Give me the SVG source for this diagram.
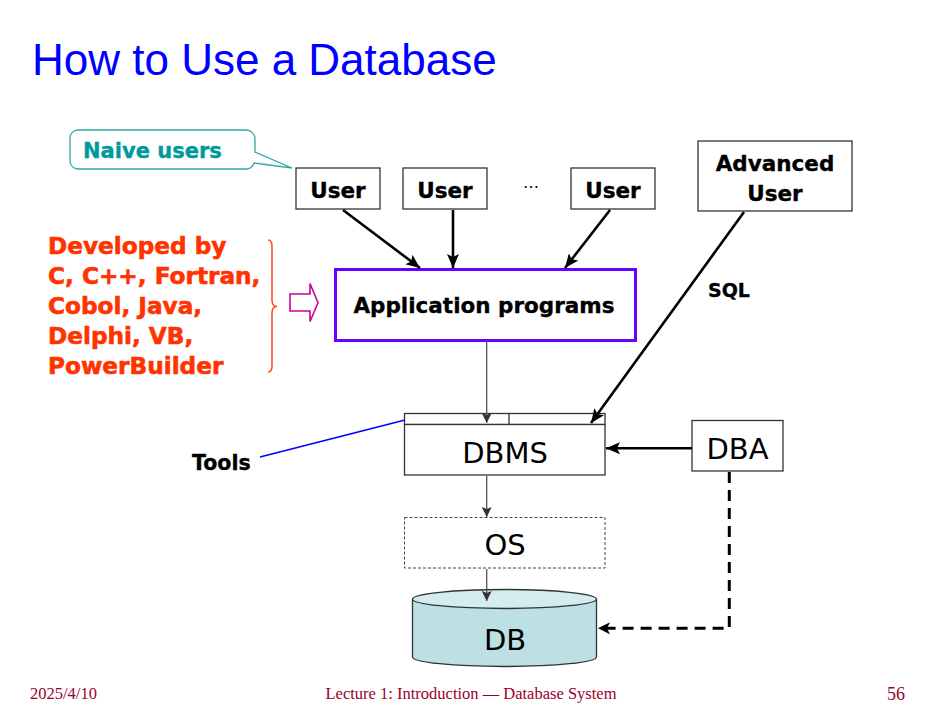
<svg xmlns="http://www.w3.org/2000/svg" width="940" height="706" viewBox="0 0 940 706">
<style>
.box{fill:#fff;stroke:#333;stroke-width:1.3}
.lbl{font-family:"DejaVu Sans",Verdana,sans-serif;font-weight:bold;font-size:21.5px;fill:#000;stroke:#000;stroke-width:0.35;text-anchor:middle}
.big{font-family:"DejaVu Sans",Tahoma,sans-serif;font-size:29px;fill:#000;text-anchor:middle}
.red{font-family:"DejaVu Sans",Verdana,sans-serif;font-weight:bold;font-size:23.2px;fill:#FF3300;stroke:#FF3300;stroke-width:0.6}
.foot{font-family:"Liberation Serif","Times New Roman",serif;fill:#99002B}
.thick{stroke:#000;stroke-width:2.6;fill:none;marker-end:url(#ah)}
.thin{stroke:#555;stroke-width:1.3;fill:none;marker-end:url(#ahs)}
</style>
<defs>
<marker id="ah" markerUnits="userSpaceOnUse" markerWidth="14" markerHeight="12" viewBox="0 0 14 12" refX="14" refY="6" orient="auto"><path d="M0,0 L14,6 L0,12 L3,6 Z" fill="#000"/></marker>
<marker id="ahs" markerUnits="userSpaceOnUse" markerWidth="10" markerHeight="10" viewBox="0 0 10 10" refX="10" refY="5" orient="auto"><path d="M0,0 L10,5 L0,10 L2,5 Z" fill="#333"/></marker>
<marker id="ahd" markerUnits="userSpaceOnUse" markerWidth="12" markerHeight="12" viewBox="0 0 12 12" refX="12" refY="6" orient="auto"><path d="M0,0 L12,6 L0,12 L3,6 Z" fill="#000"/></marker>
</defs>
<rect width="940" height="706" fill="#fff"/>
<text x="32" y="75" font-family="Liberation Sans,Arial,sans-serif" font-size="44" fill="#0000FF">How to Use a Database</text>

<g id="naive-callout">
<path d="M78,130 H246 A9,9 0 0 1 255,139 V152 L292,168 L254,163 Q252,169 246,169 H78 A8,8 0 0 1 70,161 V138 A8,8 0 0 1 78,130 Z" fill="#fff" stroke="#33A8A8" stroke-width="1.3"/>
<text x="83" y="158" font-family="DejaVu Sans,Verdana,sans-serif" font-weight="bold" font-size="21" fill="#009999" stroke="#009999" stroke-width="0.35">Naive users</text>
</g>

<g id="user1"><rect class="box" x="296" y="168" width="84" height="41"/><text class="lbl" x="338" y="198">User</text></g>
<g id="user2"><rect class="box" x="403" y="168" width="84" height="41"/><text class="lbl" x="445" y="198">User</text></g>
<text x="531" y="188" font-family="DejaVu Sans,sans-serif" font-size="16" text-anchor="middle" fill="#000">…</text>
<g id="user3"><rect class="box" x="571" y="168" width="84" height="41"/><text class="lbl" x="613" y="198">User</text></g>
<g id="advanced-user"><rect class="box" x="698" y="141" width="154" height="70"/><text class="lbl" x="775" y="171" font-size="22">Advanced</text><text class="lbl" x="775" y="201">User</text></g>

<g id="languages">
<text class="red" x="48" y="254">Developed by</text>
<text class="red" x="48" y="284">C, C++, Fortran,</text>
<text class="red" x="48" y="314">Cobol, Java,</text>
<text class="red" x="48" y="344">Delphi, VB,</text>
<text class="red" x="48" y="374">PowerBuilder</text>
<path d="M268,240 Q272,240 272,246 V300 Q272,306.5 277,306.5 Q272,306.5 272,313 V366 Q272,372 268,372" fill="none" stroke="#FF4A1A" stroke-width="1.5"/>
<path d="M290,294 H310 V283.5 L318,302.7 L310,321.5 V311 H290 Z" fill="#fff" stroke="#CC0099" stroke-width="1.6"/>
</g>

<g id="application-programs"><rect x="335.5" y="269.5" width="300" height="71" fill="#fff" stroke="#6600FF" stroke-width="3"/><text class="lbl" x="484" y="313" font-size="22">Application programs</text></g>

<g id="dbms">
<rect class="box" x="404.5" y="413.5" width="200.5" height="11"/>
<line x1="509" y1="413.5" x2="509" y2="424.5" stroke="#333" stroke-width="1.3"/>
<rect class="box" x="404.5" y="424.5" width="200.5" height="50.5"/>
<text class="big" x="505" y="463">DBMS</text>
</g>
<text x="192" y="470" font-family="DejaVu Sans,Verdana,sans-serif" font-weight="bold" font-size="20.5" fill="#000" stroke="#000" stroke-width="0.35">Tools</text>

<g id="dba"><rect class="box" x="692" y="420.5" width="91" height="50.5"/><text class="big" x="737.5" y="459">DBA</text></g>

<g id="os"><rect x="404.5" y="517.5" width="200.5" height="50.5" fill="#fff" stroke="#444" stroke-width="1" stroke-dasharray="3,2"/><text class="big" x="505" y="555">OS</text></g>

<g id="db">
<path d="M412.5,599 V657 A92,9.5 0 0 0 596.5,657 V599" fill="#BCE0E3" stroke="#333" stroke-width="1.3"/>
<ellipse cx="504.5" cy="599" rx="92" ry="9.5" fill="#D3ECEE" stroke="#333" stroke-width="1.3"/>
<text class="big" x="505" y="650">DB</text>
</g>

<text x="708" y="297" font-family="DejaVu Sans,Verdana,sans-serif" font-weight="bold" font-size="19" fill="#000" stroke="#000" stroke-width="0.3">SQL</text>

<g id="connectors">
<line class="thick" x1="343" y1="210" x2="420" y2="268"/>
<line class="thick" x1="453" y1="210" x2="453" y2="268"/>
<line class="thick" x1="610" y1="210" x2="565" y2="268"/>
<line class="thick" x1="744" y1="212" x2="591" y2="423"/>
<line class="thick" x1="692" y1="448.3" x2="606" y2="448.3"/>
<line class="thin" x1="486.7" y1="341" x2="486.7" y2="423"/>
<line class="thin" x1="486.7" y1="476" x2="486.7" y2="517"/>
<line class="thin" x1="486.7" y1="569" x2="486.7" y2="601"/>
<line x1="260" y1="457" x2="405" y2="420" stroke="#0000FF" stroke-width="1.6"/>
<path d="M729.3,472 V628.3 H598" fill="none" stroke="#000" stroke-width="3" stroke-dasharray="11,7" marker-end="url(#ahd)"/>
</g>

<text class="foot" x="30" y="699" font-size="16.5">2025/4/10</text>
<text class="foot" x="471" y="699" font-size="16.5" text-anchor="middle">Lecture 1: Introduction — Database System</text>
<text class="foot" x="905" y="700" font-size="18" text-anchor="end">56</text>
</svg>
